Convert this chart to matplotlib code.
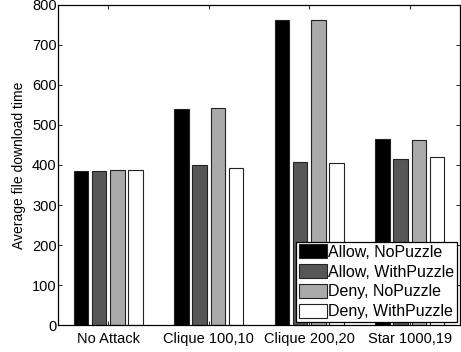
import numpy as np
import matplotlib
matplotlib.use("Agg")
import matplotlib.pyplot as plt

# ---------------------------------------------------------------
# Data
# ---------------------------------------------------------------
categories = ["No Attack", "Clique 100,10", "Clique 200,20", "Star 1000,19"]
series_names = ["Allow, NoPuzzle", "Allow, WithPuzzle", "Deny, NoPuzzle", "Deny, WithPuzzle"]
allow_nopuzzle = [386, 539, 762, 465]
allow_withpuzzle = [384, 401, 408, 414]
deny_nopuzzle = [387, 543, 762, 462]
deny_withpuzzle = [388, 392, 404, 420]
colors = ["#000000", "#575757", "#aaaaaa", "#ffffff"]

series = [allow_nopuzzle, allow_withpuzzle, deny_nopuzzle, deny_withpuzzle]

plt.rcParams["font.family"] = ["Liberation Sans", "DejaVu Sans"]

fig = plt.figure(figsize=(4.61, 3.52), dpi=100)
ax = fig.add_axes([0.1258, 0.0767, 0.8720, 0.9091])

# MATLAB-like grouped bar layout
x = np.arange(1, len(categories) + 1)
n = len(series)
group_w = min(0.8, n / (n + 1.5))
step = group_w / n
bar_w = 0.8 * step
for i, (vals, col, name) in enumerate(zip(series, colors, series_names)):
    offs = (i - (n - 1) / 2) * step
    ax.bar(x + offs, vals, width=bar_w, color=col, edgecolor="#222222",
           linewidth=0.8, label=name)

ax.set_xlim(0.5, 4.5)
ax.set_ylim(0, 800)
ax.set_xticks(x)
ax.set_xticklabels(categories, fontsize=10.5)
ax.set_yticks(np.arange(0, 801, 100))
ax.tick_params(axis="y", labelsize=10.5, pad=1)
ax.tick_params(direction="in", top=True, right=True, length=3, width=0.6)
ax.tick_params(axis="x", pad=5)
ax.set_ylabel("Average file download time", fontsize=10, labelpad=4)
for sp in ax.spines.values():
    sp.set_linewidth(0.9)

leg = ax.legend(loc="lower right", fontsize=11.5, frameon=True, fancybox=False,
                edgecolor="black", framealpha=1, borderpad=0.15, labelspacing=0.3,
                handlelength=1.75, handleheight=0.9, handletextpad=0.1,
                borderaxespad=0.2)
leg.get_frame().set_linewidth(0.9)

fig.savefig("out.png", dpi=100)
